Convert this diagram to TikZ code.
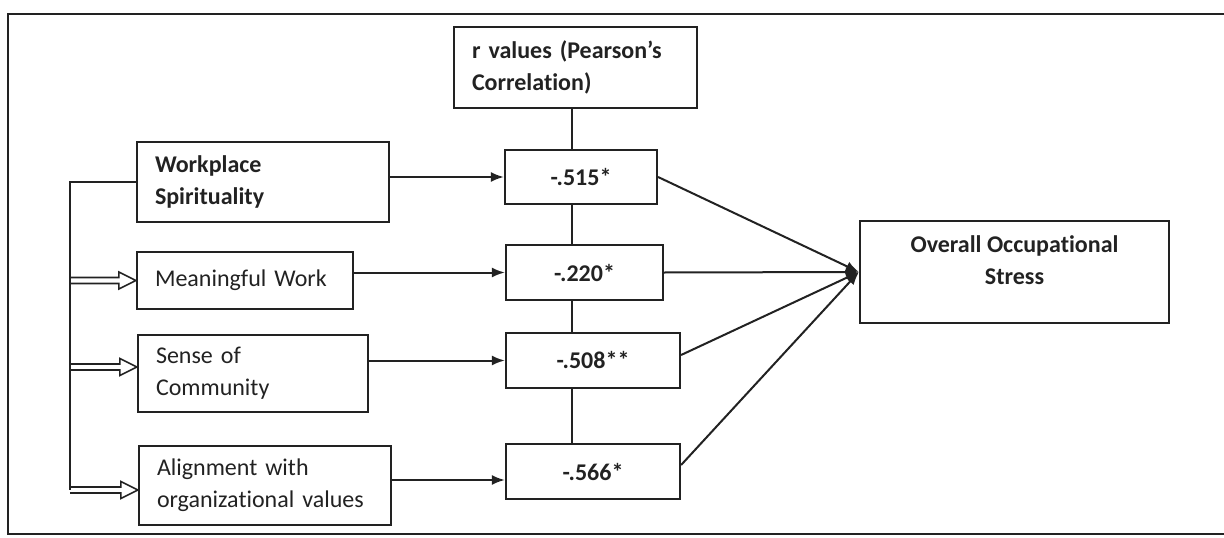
\documentclass[tikz,border=0pt]{standalone}
\usepackage{fontspec}
\setmainfont{Carlito}[Ligatures={TeX,NoCommon}]
\usetikzlibrary{arrows.meta,calc}
\definecolor{ink}{HTML}{222222}
\begin{document}
\begin{tikzpicture}[x=1pt,y=-1pt,
  every node/.style={font=\fontsize{24}{32}\selectfont, text=ink},
  box/.style={draw=ink, line width=2.2pt, inner xsep=18pt, inner ysep=0pt, align=left},
  boldbox/.style={box, font=\fontsize{24}{32}\selectfont\bfseries},
  valbox/.style={draw=ink, line width=2.2pt, inner sep=0pt, font=\fontsize{24}{32}\selectfont\bfseries},
  link/.style={draw=ink, line width=2.2pt},
  flow/.style={draw=ink, line width=2pt, -{Latex[length=13pt,width=10pt]}},
  hollow/.style={draw=ink, line width=1.6pt, to path={
    ($(\tikztostart)+(0,-3)$) -- ($(\tikztotarget)+(-17,-3)$)
    -- ($(\tikztotarget)+(-17,-8.5)$) -- (\tikztotarget)
    -- ($(\tikztotarget)+(-17,8.5)$) -- ($(\tikztotarget)+(-17,3)$)
    -- ($(\tikztostart)+(0,3)$)}}]
\useasboundingbox (0,0) rectangle (1224,538);

% outer frame (open on the right)
\draw[ink, line width=1.6pt] (1224,14) -- (8,14) -- (8,534) -- (1224,534);

% header
\node[boldbox, text width=207pt, minimum height=81pt] (r) at (575.5,67.5)
  {r values (Pearson’s\\Correlation)};

% predictors
\node[boldbox, text width=216pt, minimum height=80pt] (ws) at (263,182)
  {Workplace\\Spirituality};
\node[box, text width=180pt, minimum height=57pt] (mw) at (245,280.5)
  {Meaningful Work};
\node[box, text width=194pt, minimum height=77pt] (sc) at (253,373.5)
  {Sense of\\Community};
\node[box, text width=216pt, minimum height=79pt] (al) at (265,485.5)
  {Alignment with\\organizational values};

% correlation values
\node[valbox, minimum width=152pt, minimum height=54pt] (v1) at (581,177) {-.515*};
\node[valbox, minimum width=157pt, minimum height=55pt] (v2) at (584.5,272.5) {-.220*};
\node[valbox, minimum width=174pt, minimum height=55pt] (v3) at (593,360.5) {-.508**};
\node[valbox, minimum width=174pt, minimum height=55pt] (v4) at (593,471.5) {-.566*};

% outcome
\node[draw=ink, line width=2.2pt, minimum width=309pt, minimum height=102pt] (stress) at (1014.5,272) {};
\node[font=\fontsize{24}{32}\selectfont\bfseries, align=center] (stresstxt) at (1014.5,260)
  {Overall Occupational\\Stress};

% spine joining the r-value boxes
\coordinate (sp) at (572,0);
\draw[link] (sp |- r.south) -- (sp |- v1.north);
\draw[link] (sp |- v1.south) -- (sp |- v2.north);
\draw[link] (sp |- v2.south) -- (sp |- v3.north);
\draw[link] (sp |- v3.south) -- (sp |- v4.north);

% predictor -> value arrows
\draw[flow] (ws.east |- v1.west) -- (v1.west);
\draw[flow] (mw.east |- v2.west) -- (v2.west);
\draw[flow] (sc.east |- v3.west) -- (v3.west);
\coordinate (a4) at ($(al.east)+(0,-5.5)$);
\draw[flow] (a4) -- (a4 -| v4.west);

% value -> outcome arrows
\draw[flow] (v1.east) -- (stress.west);
\draw[flow] (v2.east) -- (stress.west);
\draw[flow] ($(v3.east)+(0,-5.5)$) -- (stress.west);
\draw[flow] ($(v4.east)+(0,-6.5)$) -- (stress.west);

% hollow arrows from the bracket to the dimensions
\coordinate (bx) at (70,0);
\coordinate (t2) at (mw.west);
\coordinate (t3) at ($(sc.west)+(0,-6.5)$);
\coordinate (t4) at ($(al.west)+(0,4.5)$);
\coordinate (h2) at (bx |- t2);
\coordinate (h3) at (bx |- t3);
\coordinate (h4) at (bx |- t4);
\draw[hollow] (h2) to (t2);
\draw[hollow] (h3) to (t3);
\draw[hollow] (h4) to (t4);

% bracket from the overall construct
\draw[link] (ws.west) -- (ws.west -| bx) -- (h4);
\end{tikzpicture}
\end{document}
